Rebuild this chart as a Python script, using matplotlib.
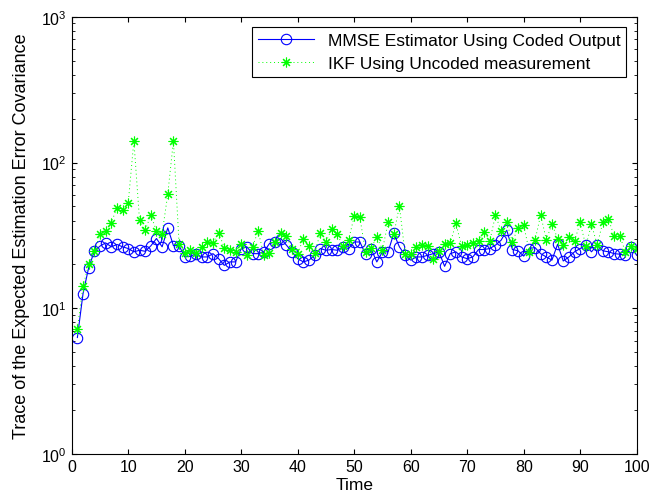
import matplotlib.pyplot as plt
from matplotlib.ticker import LogLocator

plt.rcParams['font.family'] = ['Liberation Sans', 'DejaVu Sans']

time = list(range(1, 101))

mmse = [6.3, 12.6, 19.0, 24.6, 26.7, 28.1, 26.4, 27.4, 26.4, 25.7,
        24.4, 25.0, 24.6, 26.8, 30.1, 26.4, 35.6, 26.9, 26.9, 22.5,
        22.7, 23.7, 22.5, 22.5, 23.7, 21.9, 19.7, 20.8, 20.8, 25.7,
        26.4, 23.7, 23.7, 24.4, 27.8, 28.5, 30.1, 27.1, 24.4, 21.9,
        20.8, 21.4, 23.1, 25.7, 25.0, 25.3, 25.0, 26.4, 25.7, 28.5,
        28.5, 23.5, 25.5, 20.8, 24.4, 24.4, 32.6, 26.4, 23.1, 21.4,
        22.5, 22.5, 23.1, 23.7, 24.4, 19.4, 23.7, 24.4, 22.5, 21.9,
        22.5, 25.3, 25.3, 25.7, 27.1, 29.3, 34.3, 25.3, 24.8, 22.8,
        25.7, 26.1, 23.7, 22.5, 21.4, 27.5, 21.1, 22.5, 24.4, 25.7,
        27.1, 24.4, 27.1, 24.8, 24.4, 23.7, 23.5, 23.1, 26.4, 23.1]

ikf = [7.25, 14.2, 20.0, 24.6, 32.1, 33.8, 38.5, 49.1, 47.1, 52.8,
       141, 40.2, 34.3, 43.5, 34.0, 32.5, 60.7, 141, 27.8, 24.0,
       25.0, 24.0, 26.4, 28.5, 28.1, 32.9, 26.1, 25.0, 24.4, 27.8,
       23.1, 26.4, 34.0, 23.1, 23.9, 28.5, 32.6, 31.2, 25.7, 23.7,
       30.1, 26.7, 23.9, 32.9, 28.5, 35.0, 32.2, 26.7, 29.3, 42.8,
       42.0, 24.4, 26.1, 30.6, 25.3, 38.8, 32.1, 50.4, 23.7, 23.5,
       26.4, 27.1, 26.7, 21.9, 24.8, 27.8, 28.0, 38.2, 26.7, 27.1,
       28.1, 29.0, 33.4, 29.0, 43.5, 34.0, 38.8, 28.5, 35.8, 37.2,
       24.4, 29.3, 43.5, 29.6, 37.8, 30.1, 27.1, 30.9, 29.0, 38.8,
       26.7, 37.8, 27.1, 38.8, 40.8, 31.4, 31.4, 24.4, 26.7, 25.7]

fig = plt.figure(figsize=(6.66, 5.02), dpi=100)
ax = fig.add_axes([0.1077, 0.0936, 0.8483, 0.871])

ax.semilogy(time, mmse, color='blue', linestyle='-', linewidth=0.8,
            marker='o', markersize=7.5, markerfacecolor='none',
            markeredgecolor='blue', markeredgewidth=0.8,
            label='MMSE Estimator Using Coded Output')
ax.semilogy(time, ikf, color=(0, 1, 0), linestyle=(0, (1, 3)), linewidth=0.7,
            marker=(8, 2, 0), markersize=7, markeredgewidth=0.8,
            label='IKF Using Uncoded measurement')

ax.set_xlim(0, 100)
ax.set_ylim(1, 1000)
ax.set_xticks(range(0, 101, 10))
ax.yaxis.set_minor_locator(LogLocator(base=10, subs=range(2, 10)))
ax.tick_params(which='both', direction='in', top=True, right=True, labelsize=11.5)
ax.tick_params(which='major', length=3.6)
ax.tick_params(which='minor', length=2.2)
for s in ax.spines.values():
    s.set_linewidth(0.8)

ax.set_xlabel('Time', fontsize=12.5, labelpad=2)
ax.set_ylabel('Trace of the Expected Estimation Error Covariance', fontsize=13, labelpad=8)

leg = ax.legend(loc='upper right', fontsize=12.5, fancybox=False, framealpha=1,
                edgecolor='black', borderaxespad=0.6, handlelength=3.2,
                labelspacing=0.45, borderpad=0.35)
leg.get_frame().set_linewidth(0.8)

fig.savefig('out.png', dpi=100)
